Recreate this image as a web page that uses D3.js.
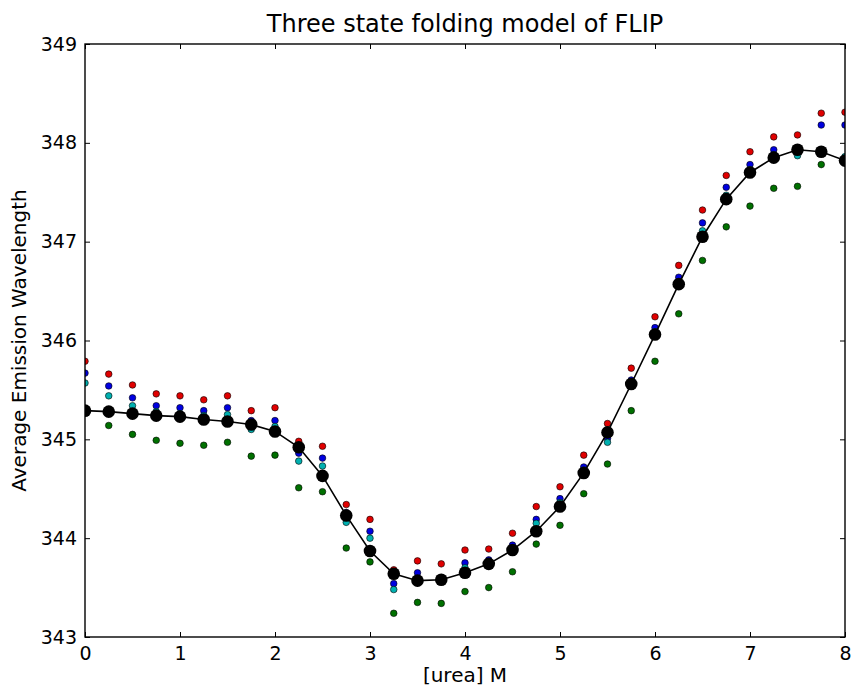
<!DOCTYPE html>
<html>
<head>
<meta charset="utf-8">
<script src="https://cdn.jsdelivr.net/npm/d3@7"></script>
<style>
  html, body { margin: 0; padding: 0; background: #fff; }
  svg { display: block; font-family: "DejaVu Sans", sans-serif; }
</style>
</head>
<body>
<svg id="chart" width="853" height="688"></svg>
<script>
// Urea concentration (M)
const urea = [0, 0.25, 0.5, 0.75, 1, 1.25, 1.5, 1.75, 2, 2.25, 2.5, 2.75, 3, 3.25, 3.5, 3.75,
              4, 4.25, 4.5, 4.75, 5, 5.25, 5.5, 5.75, 6, 6.25, 6.5, 6.75, 7, 7.25, 7.5, 7.75, 8];

// Average emission wavelength, four measurement series
const seriesRed = [345.79, 345.66, 345.55, 345.46, 345.44, 345.40, 345.44, 345.29, 345.32, 344.98, 344.93,
                   344.34, 344.19, 343.68, 343.77, 343.74, 343.88, 343.89, 344.05, 344.32, 344.52, 344.84,
                   345.16, 345.72, 346.24, 346.76, 347.32, 347.67, 347.91, 348.06, 348.08, 348.30, 348.31];
const seriesBlue = [345.67, 345.54, 345.42, 345.34, 345.32, 345.29, 345.32, 345.19, 345.19, 344.86, 344.81,
                    344.26, 344.07, 343.54, 343.65, 343.60, 343.75, 343.78, 343.93, 344.19, 344.40, 344.72,
                    345.01, 345.60, 346.13, 346.64, 347.19, 347.55, 347.78, 347.93, 347.95, 348.18, 348.18];
const seriesCyan = [345.57, 345.44, 345.34, 345.28, 345.26, 345.24, 345.25, 345.10, 345.13, 344.78, 344.73,
                    344.16, 344.00, 343.48, 343.55, 343.57, 343.70, 343.76, 343.89, 344.15, 344.36, 344.69,
                    344.97, 345.54, 346.09, 346.59, 347.11, 347.47, 347.73, 347.88, 347.87, 347.91, 347.86];
const seriesGreen = [345.27, 345.14, 345.05, 344.99, 344.96, 344.94, 344.97, 344.83, 344.84, 344.51, 344.47,
                     343.90, 343.76, 343.24, 343.35, 343.34, 343.46, 343.50, 343.66, 343.94, 344.13, 344.45,
                     344.75, 345.29, 345.79, 346.27, 346.81, 347.15, 347.36, 347.54, 347.56, 347.78, 347.80];

// Three state model fit
const modelFit = [345.29, 345.28, 345.26, 345.24, 345.23, 345.20, 345.18, 345.15, 345.08, 344.92, 344.63,
                  344.23, 343.87, 343.64, 343.57, 343.58, 343.65, 343.74, 343.88, 344.07, 344.32, 344.66,
                  345.07, 345.56, 346.06, 346.57, 347.05, 347.43, 347.70, 347.85, 347.93, 347.91, 347.82];

const xTicks = [0, 1, 2, 3, 4, 5, 6, 7, 8];
const yTicks = [343, 344, 345, 346, 347, 348, 349];

const titleText = "Three state folding model of FLIP";
const xLabelText = "[urea] M";
const yLabelText = "Average Emission Wavelength";

const margin = { left: 85, top: 44, right: 8, bottom: 51 };
const width = 853, height = 688;
const plotW = width - margin.left - margin.right;
const plotH = height - margin.top - margin.bottom;

const svg = d3.select("#chart");

const x = d3.scaleLinear().domain([0, 8]).range([0, plotW]);
const y = d3.scaleLinear().domain([343, 349]).range([plotH, 0]);

const g = svg.append("g").attr("transform", `translate(${margin.left},${margin.top})`);

g.append("defs").append("clipPath").attr("id", "plotClip")
  .append("rect").attr("width", plotW).attr("height", plotH);

const marks = g.append("g").attr("clip-path", "url(#plotClip)");

const dotSeries = [
  { values: seriesRed, color: "#e00000" },
  { values: seriesBlue, color: "#0000e0" },
  { values: seriesCyan, color: "#00b0b0" },
  { values: seriesGreen, color: "#007000" }
];

dotSeries.forEach(s => {
  marks.append("g").selectAll("circle")
    .data(urea.map((u, i) => [u, s.values[i]]))
    .join("circle")
    .attr("cx", d => x(d[0]))
    .attr("cy", d => y(d[1]))
    .attr("r", 3.3)
    .attr("fill", s.color)
    .attr("stroke", "#000")
    .attr("stroke-width", 0.6);
});

const fitPts = urea.map((u, i) => [u, modelFit[i]]);
marks.append("path")
  .datum(fitPts)
  .attr("fill", "none")
  .attr("stroke", "#000")
  .attr("stroke-width", 1.6)
  .attr("d", d3.line().x(d => x(d[0])).y(d => y(d[1])));

marks.append("g").selectAll("circle")
  .data(fitPts)
  .join("circle")
  .attr("cx", d => x(d[0]))
  .attr("cy", d => y(d[1]))
  .attr("r", 6.3)
  .attr("fill", "#000");

// Axes: ticks point inward on all four sides
const tickLen = 5;
const axisStyle = sel => {
  sel.select(".domain").remove();
  sel.selectAll(".tick line").attr("stroke", "#000").attr("stroke-width", 1);
};

g.append("g").attr("transform", `translate(0,${plotH})`)
  .call(d3.axisBottom(x).tickValues(xTicks).tickFormat(d3.format("d")).tickSizeInner(-tickLen).tickSizeOuter(0).tickPadding(10))
  .call(axisStyle)
  .call(s => s.selectAll("text").attr("font-size", 19).attr("fill", "#000").attr("font-family", "DejaVu Sans"));

g.append("g")
  .call(d3.axisTop(x).tickValues(xTicks).tickFormat("").tickSizeInner(-tickLen).tickSizeOuter(0))
  .call(axisStyle);

g.append("g")
  .call(d3.axisLeft(y).tickValues(yTicks).tickFormat(d3.format("d")).tickSizeInner(-tickLen).tickSizeOuter(0).tickPadding(8))
  .call(axisStyle)
  .call(s => s.selectAll("text").attr("font-size", 19).attr("fill", "#000").attr("font-family", "DejaVu Sans"));

g.append("g").attr("transform", `translate(${plotW},0)`)
  .call(d3.axisRight(y).tickValues(yTicks).tickFormat("").tickSizeInner(-tickLen).tickSizeOuter(0))
  .call(axisStyle);

// Frame
g.append("rect")
  .attr("width", plotW).attr("height", plotH)
  .attr("fill", "none").attr("stroke", "#000").attr("stroke-width", 1.4);

// Title and axis labels
svg.append("text")
  .attr("x", margin.left + plotW / 2).attr("y", 32)
  .attr("text-anchor", "middle")
  .attr("font-size", 24).attr("fill", "#000")
  .text(titleText);

svg.append("text")
  .attr("x", margin.left + plotW / 2).attr("y", 682)
  .attr("text-anchor", "middle")
  .attr("font-size", 20).attr("fill", "#000")
  .text(xLabelText);

svg.append("text")
  .attr("transform", `translate(26,${margin.top + plotH / 2}) rotate(-90)`)
  .attr("text-anchor", "middle")
  .attr("font-size", 20).attr("fill", "#000")
  .text(yLabelText);
</script>
</body>
</html>
